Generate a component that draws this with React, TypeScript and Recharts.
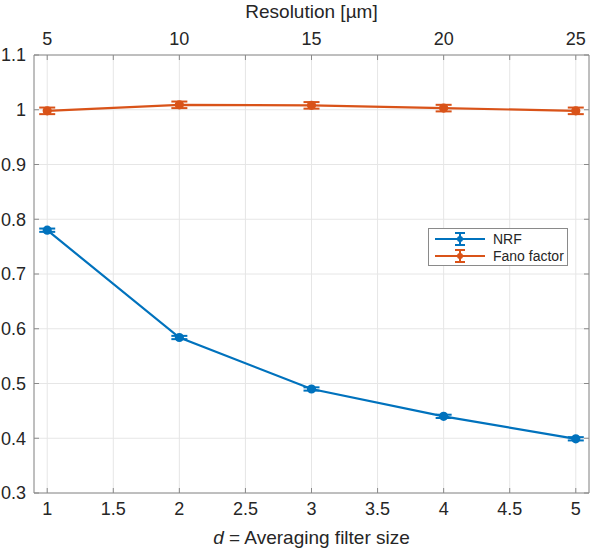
import React from 'react';
import {
  LineChart,
  Line,
  XAxis,
  YAxis,
  CartesianGrid,
  ErrorBar,
} from 'recharts';

// averaging filter size d (resolution = 5 * d µm)
const filterSizes = [1, 2, 3, 4, 5];
const nrfValues = [0.78, 0.584, 0.49, 0.44, 0.399];
const nrfErrors = [0.003, 0.003, 0.003, 0.003, 0.003];
const fanoValues = [0.998, 1.009, 1.008, 1.003, 0.998];
const fanoErrors = [0.006, 0.006, 0.006, 0.006, 0.006];

const xTicks = [1, 1.5, 2, 2.5, 3, 3.5, 4, 4.5, 5];
const yTicks = [0.3, 0.4, 0.5, 0.6, 0.7, 0.8, 0.9, 1, 1.1];

const BLUE = '#0072BD';
const ORANGE = '#D95319';
const AXIS = '#8a8a8a';
const TEXT = '#262626';
const FONT = '"Liberation Sans", Arial, Helvetica, sans-serif';
const TICK_SIZE = 18;
const LABEL_SIZE = 19;

const data = filterSizes.map((d, i) => ({
  d,
  nrf: nrfValues[i],
  nrfErr: nrfErrors[i],
  fano: fanoValues[i],
  fanoErr: fanoErrors[i],
}));

const BottomTick = ({ x, y, payload }: any) => (
  <g>
    <line x1={x} y1={y} x2={x} y2={y - 5} stroke={AXIS} />
    <text x={x} y={y + 8} dy="0.75em" textAnchor="middle" fill={TEXT} fontSize={TICK_SIZE} fontFamily={FONT}>
      {payload.value}
    </text>
  </g>
);

const TopTick = ({ x, y, payload }: any) => {
  const v = payload.value;
  return (
    <g>
      <line x1={x} y1={y} x2={x} y2={y + 5} stroke={AXIS} />
      {Number.isInteger(v) && (
        <text x={x} y={y - 10} textAnchor="middle" fill={TEXT} fontSize={TICK_SIZE} fontFamily={FONT}>
          {v * 5}
        </text>
      )}
    </g>
  );
};

const LeftTick = ({ x, y, payload }: any) => (
  <g>
    <line x1={x} y1={y} x2={x + 5} y2={y} stroke={AXIS} />
    <text x={x - 8} y={y} dy="0.36em" textAnchor="end" fill={TEXT} fontSize={TICK_SIZE} fontFamily={FONT}>
      {payload.value}
    </text>
  </g>
);

const RightTick = ({ x, y }: any) => (
  <line x1={x} y1={y} x2={x - 5} y2={y} stroke={AXIS} />
);

const LegendIcon = ({ color }: { color: string }) => (
  <svg width={52} height={16} style={{ display: 'block' }}>
    <line x1={1} y1={8} x2={51} y2={8} stroke={color} strokeWidth={2} />
    <line x1={26} y1={2} x2={26} y2={14} stroke={color} strokeWidth={2} />
    <line x1={21} y1={2} x2={31} y2={2} stroke={color} strokeWidth={2} />
    <line x1={21} y1={14} x2={31} y2={14} stroke={color} strokeWidth={2} />
    <circle cx={26} cy={8} r={3} fill={color} />
  </svg>
);

export default function App() {
  return (
    <div style={{ position: 'absolute', left: 0, top: 0, width: 590, height: 549, background: '#fff' }}>
      <LineChart
        width={590}
        height={549}
        data={data}
        margin={{ top: 0, right: 0, bottom: 0, left: 0 }}
      >
        <CartesianGrid xAxisId="bottom" yAxisId="left" stroke="#e6e6e6" />
        <XAxis
          xAxisId="bottom"
          dataKey="d"
          type="number"
          domain={[0.9, 5.1]}
          ticks={xTicks}
          orientation="bottom"
          height={56}
          tickSize={0}
          tickMargin={0}
          tick={<BottomTick />}
          axisLine={{ stroke: AXIS }}
          allowDataOverflow
          label={{
            content: ({ viewBox }: any) => (
              <text
                x={viewBox.x + viewBox.width / 2}
                y={viewBox.y + viewBox.height - 5}
                textAnchor="middle"
                fill={TEXT}
                fontSize={LABEL_SIZE}
                fontFamily={FONT}
              >
                <tspan fontStyle="italic">d</tspan> = Averaging filter size
              </text>
            ),
          }}
        />
        <XAxis
          xAxisId="top"
          dataKey="d"
          type="number"
          domain={[0.9, 5.1]}
          ticks={xTicks}
          orientation="top"
          height={55}
          tickSize={0}
          tickMargin={0}
          tick={<TopTick />}
          axisLine={{ stroke: AXIS }}
          allowDataOverflow
          label={{
            content: ({ viewBox }: any) => (
              <text
                x={viewBox.x + viewBox.width / 2}
                y={viewBox.y + 18}
                textAnchor="middle"
                fill={TEXT}
                fontSize={LABEL_SIZE}
                fontFamily={FONT}
              >
                Resolution [µm]
              </text>
            ),
          }}
        />
        <YAxis
          yAxisId="left"
          type="number"
          domain={[0.3, 1.1]}
          ticks={yTicks}
          width={34}
          tickSize={0}
          tickMargin={0}
          tick={<LeftTick />}
          axisLine={{ stroke: AXIS }}
          allowDataOverflow
        />
        <YAxis
          yAxisId="right"
          orientation="right"
          type="number"
          domain={[0.3, 1.1]}
          ticks={yTicks}
          width={1}
          tickSize={0}
          tickMargin={0}
          tick={<RightTick />}
          axisLine={{ stroke: AXIS }}
          allowDataOverflow
        />
        <Line
          xAxisId="bottom"
          yAxisId="left"
          dataKey="nrf"
          stroke={BLUE}
          strokeWidth={2.2}
          dot={{ r: 3.5, fill: BLUE, stroke: BLUE }}
          activeDot={false}
          isAnimationActive={false}
        >
          <ErrorBar dataKey="nrfErr" direction="y" width={8} stroke={BLUE} strokeWidth={2} />
        </Line>
        <Line
          xAxisId="bottom"
          yAxisId="left"
          dataKey="fano"
          stroke={ORANGE}
          strokeWidth={2.2}
          dot={{ r: 3.5, fill: ORANGE, stroke: ORANGE }}
          activeDot={false}
          isAnimationActive={false}
        >
          <ErrorBar dataKey="fanoErr" direction="y" width={8} stroke={ORANGE} strokeWidth={2} />
        </Line>
      </LineChart>
      <div
        style={{
          position: 'absolute',
          left: 428,
          top: 228,
          width: 140,
          height: 38,
          boxSizing: 'border-box',
          border: '1px solid #8a8a8a',
          background: '#fff',
          fontFamily: FONT,
          fontSize: 14,
          color: TEXT,
          padding: '1px 0 0 5px',
        }}
      >
        {[
          { name: 'NRF', color: BLUE },
          { name: 'Fano factor', color: ORANGE },
        ].map((item) => (
          <div key={item.name} style={{ display: 'flex', alignItems: 'center', height: 17 }}>
            <LegendIcon color={item.color} />
            <span style={{ marginLeft: 7, whiteSpace: 'nowrap' }}>{item.name}</span>
          </div>
        ))}
      </div>
    </div>
  );
}
